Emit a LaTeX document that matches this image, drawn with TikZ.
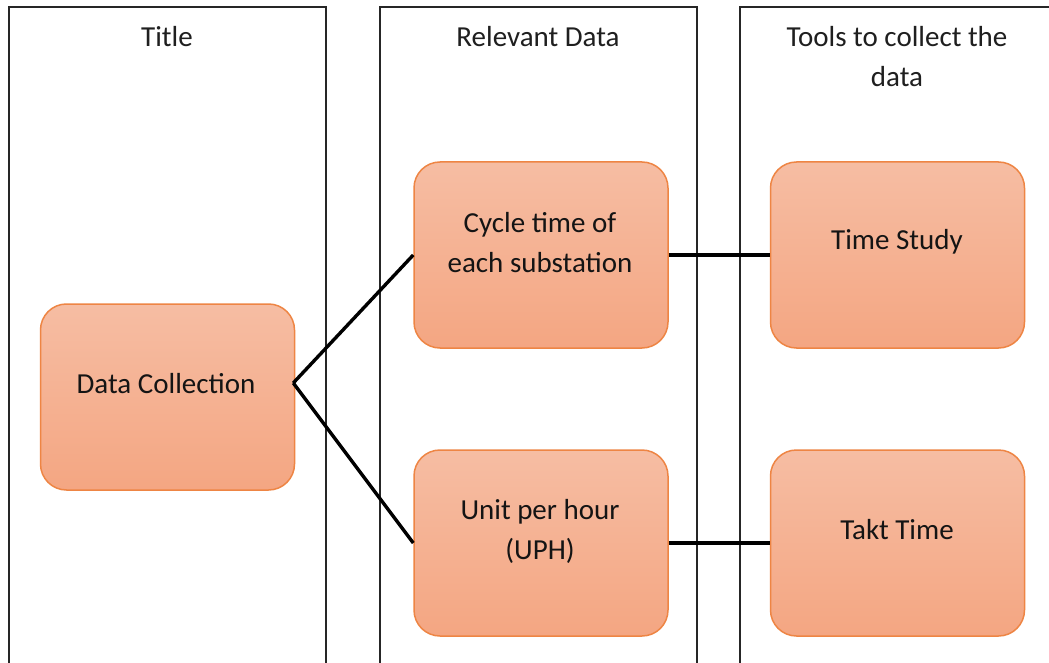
\documentclass[tikz,border=0pt]{standalone}
\usepackage{fontspec}
\setmainfont{Carlito}
\begin{document}
\begin{tikzpicture}[x=1pt,y=-1pt,
  column/.style={draw=black!85,line width=2.2pt},
  header/.style={align=center,font=\fontsize{29}{40}\selectfont,text=black!88},
  stepbox/.style={draw={rgb,255:red,238;green,133;blue,68},line width=1.5pt,
    rounded corners=26pt,minimum width=254pt,minimum height=186pt,
    top color={rgb,255:red,246;green,189;blue,163},
    bottom color={rgb,255:red,244;green,166;blue,130},
    inner sep=0pt},
  boxtext/.style={align=center,font=\fontsize{29}{40}\selectfont,text=black!92},
  link/.style={draw=black,line width=3.4pt}]
\useasboundingbox (0,0) rectangle (1049,663);
\fill[white] (0,0) rectangle (1049,663);

% three columns, open at the lower edge
\draw[column] (9,664) -- (9,7) -- (326,7) -- (326,664);
\draw[column] (380,664) -- (380,7) -- (697,7) -- (697,664);
\draw[column] (740,664) -- (740,7) -- (1050,7);

% column headings
\node[header] (h1) at (167,37) {Title};
\node[header] (h2) at (538,37) {Relevant Data};
\node[header] (h3) at (897,57) {Tools to collect the\\data};

% rounded boxes
\node[stepbox] (dc) at (167.5,397) {};
\node[stepbox] (ct) at (541,255) {};
\node[stepbox] (uph) at (541,543) {};
\node[stepbox] (ts) at (897.5,255) {};
\node[stepbox] (tt) at (897.5,543) {};

% box texts
\node[boxtext] (dct) at (166,384) {Data Collection};
\node[boxtext] (ctt) at (540,243) {Cycle time of\\each substation};
\node[boxtext] (upht) at (540,531) {Unit per hour\\(UPH)};
\node[boxtext] (tst) at (897,242) {Time Study};
\node[boxtext] (ttt) at (897,530) {Takt Time};

% connectors
\coordinate (apex) at ([yshift=14pt,xshift=-2pt]dc.east);
\draw[link] (apex) -- (ct.west);
\draw[link] (apex) -- (uph.west);
\draw[link] (ct.east) -- (ts.west);
\draw[link] (uph.east) -- (tt.west);
\end{tikzpicture}
\end{document}
